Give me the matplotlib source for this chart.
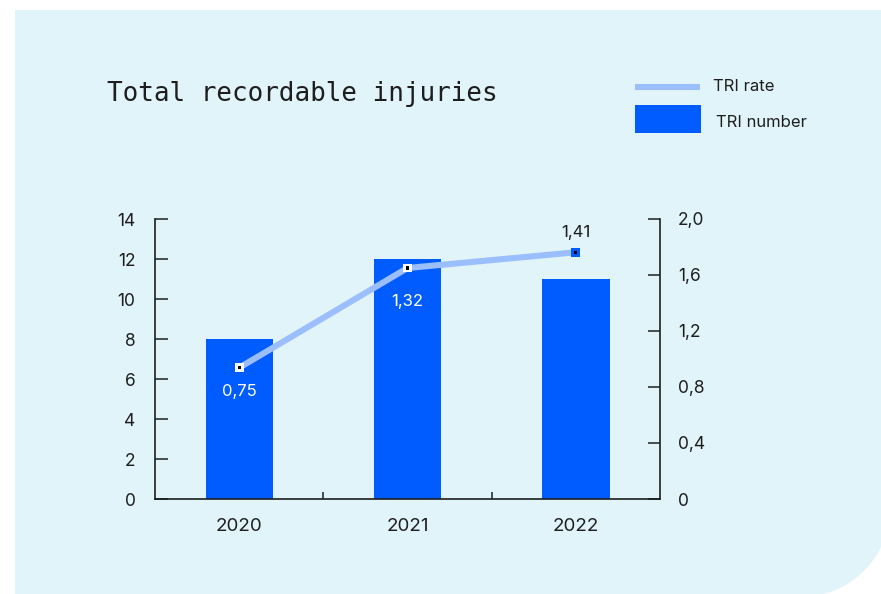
import numpy as np
import matplotlib.pyplot as plt
from matplotlib.patches import PathPatch, Rectangle
from matplotlib.path import Path
from matplotlib.lines import Line2D
from matplotlib.ticker import FuncFormatter

# --- data ---
years = ["2020", "2021", "2022"]
tri_number = [8, 12, 11]
tri_rate = [0.75, 1.32, 1.41]
rate_labels = ["0,75", "1,32", "1,41"]

# --- style ---
PANEL = "#E1F4FA"
BAR_BLUE = "#005CFF"
LINE_BLUE = "#9BBEFF"
INK = "#1E1E1E"

plt.rcParams["font.family"] = ["Inter", "DejaVu Sans"]

fig = plt.figure(figsize=(8.81, 5.94), dpi=100)
fig.patch.set_facecolor("white")

# background panel, square corners except a big rounded one bottom-right
cx, cy, r = 8.01, 5.94 - 5.08, 0.89
theta = np.linspace(0, -np.pi / 2, 40)
arc = np.column_stack([cx + r * np.cos(theta), cy + r * np.sin(theta)])
verts = [(0.15, 5.84), (8.90, 5.84)] + [tuple(p) for p in arc] + [(0.15, -0.03), (0.15, 5.84)]
panel = PathPatch(Path(verts), transform=fig.dpi_scale_trans, facecolor=PANEL,
                  edgecolor="none", zorder=-1)
fig.patches.append(panel)

# main axes: bars on the left scale
ax = fig.add_axes([155 / 881, 1 - 499 / 594, 505 / 881, 280 / 594])
ax.set_facecolor("none")
x = np.arange(len(years))
ax.bar(x, tri_number, width=0.4, color=BAR_BLUE, zorder=2)
ax.set_xlim(-0.5, 2.5)
ax.set_ylim(0, 14)
ax.set_yticks(range(0, 15, 2))
ax.set_xticks(x)
ax.set_xticklabels(years, fontsize=13.5, color=INK)
ax.set_xticks([0.5, 1.5], minor=True)
ax.tick_params(axis="x", which="major", length=0, pad=14)
ax.tick_params(axis="x", which="minor", direction="in", length=5, width=1.1, color=INK)
ax.tick_params(axis="y", direction="in", length=9, width=1.1, color=INK,
               labelsize=12.5, labelcolor=INK, pad=14)
for side in ["top", "right"]:
    ax.spines[side].set_visible(False)
for side in ["left", "bottom"]:
    ax.spines[side].set_linewidth(1.2)
    ax.spines[side].set_color(INK)

# right scale for the rate
ax_r = ax.twinx()
ax_r.set_ylim(0, 2.0)
ax_r.set_yticks([0, 0.4, 0.8, 1.2, 1.6, 2.0])
ax_r.yaxis.set_major_formatter(
    FuncFormatter(lambda v, _: "0" if v == 0 else f"{v:.1f}".replace(".", ",")))
ax_r.tick_params(axis="y", direction="in", length=9, width=1.1, color=INK,
                 labelsize=12.5, labelcolor=INK, pad=13)
for side in ["top", "left", "bottom"]:
    ax_r.spines[side].set_visible(False)
ax_r.spines["right"].set_linewidth(1.2)
ax_r.spines["right"].set_color(INK)

# rate line
ax_l = ax.twinx()
ax_l.set_ylim(0, 1.6)
ax_l.axis("off")
ax_l.plot(x, tri_rate, color=LINE_BLUE, lw=4.4, solid_capstyle="butt", zorder=3)
faces = ["white", "white", BAR_BLUE]
ax_l.scatter(x, tri_rate, marker="s", s=40, c=faces, edgecolors="none", zorder=4)
ax_l.scatter(x, tri_rate, marker="s", s=5, c="black", edgecolors="none", zorder=5)

label_colors = ["white", "white", INK]
label_offsets = [-17, -24, 14]
for xi, v, txt, col, off in zip(x, tri_rate, rate_labels, label_colors, label_offsets):
    ax_l.annotate(txt, (xi, v), xytext=(0, off), textcoords="offset points",
                  ha="center", va="center", fontsize=12, color=col, zorder=6)

# title
fig.text(107 / 881, 1 - 101 / 594, "Total recordable injuries", fontsize=18.7,
         family=["DejaVu Sans Mono"], color=INK, va="baseline", ha="left")

# legend
fig.lines.append(Line2D([635 / 881, 700 / 881], [1 - 87 / 594] * 2, color=LINE_BLUE,
                        lw=4.4, transform=fig.transFigure, solid_capstyle="butt"))
fig.patches.append(Rectangle((635 / 881, 1 - 133 / 594), 66 / 881, 28 / 594,
                             transform=fig.transFigure, facecolor=BAR_BLUE,
                             edgecolor="none"))
fig.text(713 / 881, 1 - 87 / 594, "TRI rate", fontsize=12, color=INK,
         va="center", ha="left")
fig.text(716 / 881, 1 - 122 / 594, "TRI number", fontsize=12, color=INK,
         va="center", ha="left")

fig.savefig("out.png", dpi=100, facecolor=fig.get_facecolor())
